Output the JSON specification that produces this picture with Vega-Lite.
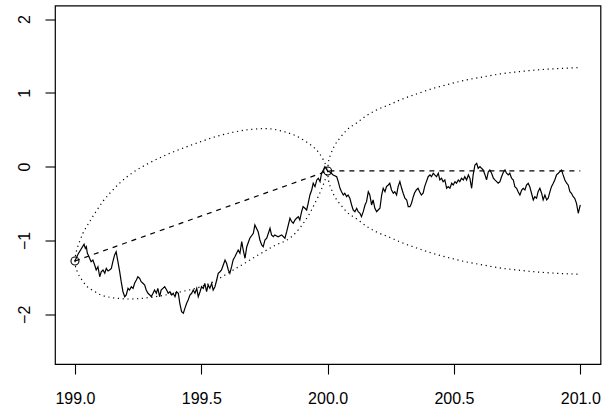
{
"$schema": "https://vega.github.io/schema/vega-lite/v6.json",
"width": 545.5,
"height": 358.5,
"autosize": "none",
"padding": {"left": 55, "top": 5.5, "right": 2.5, "bottom": 46.5},
"background": "white",
"config": {
  "view": {"stroke": "black", "strokeWidth": 1.2},
  "axis": {"grid": false, "domain": false, "tickColor": "black", "tickWidth": 1.1, "tickSize": 10, "labelColor": "black", "labelFont": "Liberation Sans", "labelFontSize": 16, "title": null}
},
"datasets": {
  "series": [
{"x":199.000,"y":-1.278},{"x":199.012,"y":-1.187},{"x":199.036,"y":-1.051},{"x":199.041,"y":-1.106},{"x":199.045,"y":-1.084},{"x":199.049,"y":-1.173},{"x":199.054,"y":-1.206},{"x":199.058,"y":-1.241},{"x":199.064,"y":-1.287},{"x":199.071,"y":-1.264},{"x":199.078,"y":-1.332},{"x":199.084,"y":-1.400},{"x":199.091,"y":-1.355},{"x":199.098,"y":-1.491},{"x":199.104,"y":-1.423},{"x":199.111,"y":-1.400},{"x":199.118,"y":-1.444},{"x":199.124,"y":-1.377},{"x":199.131,"y":-1.413},{"x":199.137,"y":-1.400},{"x":199.144,"y":-1.377},{"x":199.150,"y":-1.287},{"x":199.157,"y":-1.196},{"x":199.163,"y":-1.152},{"x":199.170,"y":-1.287},{"x":199.177,"y":-1.423},{"x":199.183,"y":-1.558},{"x":199.190,"y":-1.694},{"x":199.197,"y":-1.762},{"x":199.203,"y":-1.738},{"x":199.210,"y":-1.648},{"x":199.216,"y":-1.671},{"x":199.223,"y":-1.626},{"x":199.230,"y":-1.648},{"x":199.236,"y":-1.580},{"x":199.243,"y":-1.535},{"x":199.249,"y":-1.491},{"x":199.256,"y":-1.512},{"x":199.262,"y":-1.558},{"x":199.269,"y":-1.580},{"x":199.276,"y":-1.603},{"x":199.282,"y":-1.671},{"x":199.289,"y":-1.715},{"x":199.296,"y":-1.738},{"x":199.302,"y":-1.762},{"x":199.309,"y":-1.715},{"x":199.315,"y":-1.671},{"x":199.322,"y":-1.715},{"x":199.328,"y":-1.648},{"x":199.335,"y":-1.762},{"x":199.341,"y":-1.671},{"x":199.348,"y":-1.648},{"x":199.355,"y":-1.626},
{"x":199.363,"y":-1.671},{"x":199.369,"y":-1.715},{"x":199.376,"y":-1.694},{"x":199.383,"y":-1.738},{"x":199.389,"y":-1.715},{"x":199.396,"y":-1.762},{"x":199.402,"y":-1.694},{"x":199.409,"y":-1.715},{"x":199.415,"y":-1.851},{"x":199.422,"y":-1.965},{"x":199.429,"y":-1.986},{"x":199.435,"y":-1.919},{"x":199.442,"y":-1.851},{"x":199.448,"y":-1.806},{"x":199.455,"y":-1.738},{"x":199.462,"y":-1.715},{"x":199.468,"y":-1.671},{"x":199.475,"y":-1.715},{"x":199.482,"y":-1.648},{"x":199.488,"y":-1.762},{"x":199.495,"y":-1.694},{"x":199.501,"y":-1.626},{"x":199.508,"y":-1.648},{"x":199.514,"y":-1.580},{"x":199.521,"y":-1.694},{"x":199.527,"y":-1.603},{"x":199.534,"y":-1.648},{"x":199.541,"y":-1.580},{"x":199.547,"y":-1.671},{"x":199.554,"y":-1.626},{"x":199.561,"y":-1.535},{"x":199.567,"y":-1.444},{"x":199.574,"y":-1.423},{"x":199.580,"y":-1.400},{"x":199.587,"y":-1.332},{"x":199.594,"y":-1.264},{"x":199.600,"y":-1.309},{"x":199.607,"y":-1.400},{"x":199.613,"y":-1.444},{"x":199.620,"y":-1.355},{"x":199.626,"y":-1.264},
{"x":199.633,"y":-1.220},{"x":199.646,"y":-1.129},{"x":199.653,"y":-1.173},{"x":199.660,"y":-1.016},{"x":199.666,"y":-1.129},{"x":199.673,"y":-1.241},{"x":199.680,"y":-1.084},{"x":199.692,"y":-0.970},{"x":199.706,"y":-0.902},{"x":199.712,"y":-0.790},{"x":199.725,"y":-0.881},{"x":199.732,"y":-0.993},{"x":199.739,"y":-1.061},{"x":199.745,"y":-1.084},{"x":199.752,"y":-0.993},{"x":199.759,"y":-0.970},{"x":199.772,"y":-0.835},{"x":199.778,"y":-0.925},{"x":199.785,"y":-0.949},{"x":199.791,"y":-0.925},{"x":199.804,"y":-0.949},{"x":199.818,"y":-0.925},{"x":199.831,"y":-0.970},{"x":199.838,"y":-0.881},{"x":199.851,"y":-0.699},{"x":199.858,"y":-0.745},{"x":199.864,"y":-0.767},{"x":199.871,"y":-0.722},{"x":199.877,"y":-0.699},{"x":199.884,"y":-0.678},{"x":199.890,"y":-0.722},{"x":199.897,"y":-0.610},{"x":199.903,"y":-0.542},{"x":199.910,"y":-0.564},{"x":199.917,"y":-0.587},{"x":199.923,"y":-0.496},{"x":199.930,"y":-0.383},{"x":199.937,"y":-0.316},{"x":199.943,"y":-0.225},{"x":199.950,"y":-0.271},{"x":199.957,"y":-0.180},{"x":199.963,"y":-0.157},{"x":199.970,"y":-0.203},{"x":199.976,"y":-0.089},{"x":199.983,"y":-0.045},{"x":199.989,"y":0.000},{"x":200.000,"y":-0.058},
{"x":200.009,"y":-0.072},{"x":200.022,"y":-0.112},{"x":200.036,"y":-0.136},{"x":200.042,"y":-0.203},{"x":200.049,"y":-0.293},{"x":200.055,"y":-0.339},{"x":200.062,"y":-0.383},{"x":200.068,"y":-0.360},{"x":200.075,"y":-0.407},{"x":200.081,"y":-0.383},{"x":200.088,"y":-0.428},{"x":200.095,"y":-0.519},{"x":200.101,"y":-0.587},{"x":200.108,"y":-0.610},{"x":200.115,"y":-0.564},{"x":200.121,"y":-0.610},{"x":200.128,"y":-0.631},{"x":200.134,"y":-0.678},{"x":200.141,"y":-0.610},{"x":200.148,"y":-0.519},{"x":200.154,"y":-0.474},{"x":200.161,"y":-0.339},{"x":200.167,"y":-0.383},{"x":200.174,"y":-0.519},{"x":200.180,"y":-0.451},{"x":200.187,"y":-0.564},{"x":200.194,"y":-0.610},{"x":200.200,"y":-0.587},{"x":200.207,"y":-0.564},{"x":200.214,"y":-0.383},{"x":200.220,"y":-0.293},{"x":200.227,"y":-0.339},{"x":200.233,"y":-0.271},{"x":200.240,"y":-0.248},{"x":200.246,"y":-0.225},{"x":200.253,"y":-0.316},{"x":200.260,"y":-0.360},{"x":200.266,"y":-0.339},{"x":200.273,"y":-0.383},{"x":200.279,"y":-0.271},{"x":200.286,"y":-0.203},{"x":200.293,"y":-0.293},{"x":200.299,"y":-0.360},{"x":200.306,"y":-0.428},{"x":200.313,"y":-0.451},{"x":200.319,"y":-0.542},{"x":200.326,"y":-0.542},{"x":200.332,"y":-0.496},{"x":200.339,"y":-0.407},
{"x":200.344,"y":-0.356},{"x":200.351,"y":-0.316},{"x":200.358,"y":-0.293},{"x":200.364,"y":-0.339},{"x":200.371,"y":-0.383},{"x":200.378,"y":-0.360},{"x":200.384,"y":-0.271},{"x":200.391,"y":-0.203},{"x":200.398,"y":-0.136},{"x":200.405,"y":-0.112},{"x":200.411,"y":-0.136},{"x":200.418,"y":-0.089},{"x":200.424,"y":-0.112},{"x":200.431,"y":-0.136},{"x":200.438,"y":-0.089},{"x":200.444,"y":-0.180},{"x":200.451,"y":-0.157},{"x":200.457,"y":-0.203},{"x":200.464,"y":-0.180},{"x":200.471,"y":-0.293},{"x":200.477,"y":-0.271},{"x":200.484,"y":-0.293},{"x":200.491,"y":-0.225},{"x":200.497,"y":-0.248},{"x":200.504,"y":-0.203},{"x":200.510,"y":-0.225},{"x":200.517,"y":-0.180},{"x":200.523,"y":-0.203},{"x":200.530,"y":-0.157},{"x":200.537,"y":-0.180},{"x":200.543,"y":-0.136},{"x":200.550,"y":-0.180},{"x":200.557,"y":-0.112},{"x":200.563,"y":-0.157},{"x":200.570,"y":-0.293},{"x":200.576,"y":-0.112},{"x":200.583,"y":0.023},{"x":200.590,"y":0.046},{"x":200.596,"y":-0.022},{"x":200.603,"y":0.000},{"x":200.609,"y":-0.022},{"x":200.616,"y":-0.045},{"x":200.623,"y":-0.112},{"x":200.629,"y":-0.180},{"x":200.636,"y":-0.068},{"x":200.642,"y":-0.045},{"x":200.649,"y":-0.089},{"x":200.656,"y":-0.157},{"x":200.662,"y":-0.180},{"x":200.669,"y":-0.203},{"x":200.675,"y":-0.225},{"x":200.682,"y":-0.203},
{"x":200.688,"y":-0.140},{"x":200.695,"y":-0.079},{"x":200.702,"y":-0.045},{"x":200.708,"y":-0.089},{"x":200.715,"y":-0.112},{"x":200.721,"y":-0.089},{"x":200.728,"y":-0.157},{"x":200.735,"y":-0.180},{"x":200.741,"y":-0.271},{"x":200.748,"y":-0.293},{"x":200.754,"y":-0.339},{"x":200.761,"y":-0.383},{"x":200.768,"y":-0.316},{"x":200.774,"y":-0.293},{"x":200.781,"y":-0.316},{"x":200.787,"y":-0.248},{"x":200.794,"y":-0.225},{"x":200.800,"y":-0.271},{"x":200.807,"y":-0.360},{"x":200.814,"y":-0.451},{"x":200.820,"y":-0.407},{"x":200.827,"y":-0.428},{"x":200.833,"y":-0.339},{"x":200.840,"y":-0.293},{"x":200.847,"y":-0.360},{"x":200.853,"y":-0.451},{"x":200.860,"y":-0.383},{"x":200.867,"y":-0.451},{"x":200.873,"y":-0.428},{"x":200.880,"y":-0.339},{"x":200.886,"y":-0.271},{"x":200.893,"y":-0.225},{"x":200.899,"y":-0.180},{"x":200.906,"y":-0.112},{"x":200.913,"y":-0.089},{"x":200.919,"y":-0.068},{"x":200.926,"y":-0.045},{"x":200.932,"y":-0.112},{"x":200.939,"y":-0.180},{"x":200.946,"y":-0.225},{"x":200.952,"y":-0.248},{"x":200.959,"y":-0.339},{"x":200.965,"y":-0.360},{"x":200.972,"y":-0.407},{"x":200.978,"y":-0.428},{"x":200.985,"y":-0.496},{"x":200.992,"y":-0.631},{"x":201.000,"y":-0.519}
  ],
  "dashed": [
{"x":199.000,"y":-1.278},{"x":200.000,"y":-0.058},{"x":201.000,"y":-0.058}
  ],
  "band": [
{"curve":"bu","x":199.000,"y":-1.278},{"curve":"bu","x":199.002,"y":-1.210},{"curve":"bu","x":199.006,"y":-1.142},{"curve":"bu","x":199.012,"y":-1.075},{"curve":"bu","x":199.020,"y":-1.000},{"curve":"bu","x":199.032,"y":-0.898},{"curve":"bu","x":199.046,"y":-0.813},{"curve":"bu","x":199.067,"y":-0.695},{"curve":"bu","x":199.086,"y":-0.593},{"curve":"bu","x":199.112,"y":-0.465},{"curve":"bu","x":199.138,"y":-0.360},{"curve":"bu","x":199.178,"y":-0.220},{"curve":"bu","x":199.231,"y":-0.075},{"curve":"bu","x":199.297,"y":0.055},{"curve":"bu","x":199.363,"y":0.163},{"curve":"bu","x":199.435,"y":0.260},{"curve":"bu","x":199.495,"y":0.335},{"curve":"bu","x":199.554,"y":0.403},{"curve":"bu","x":199.626,"y":0.466},{"curve":"bu","x":199.692,"y":0.503},{"curve":"bu","x":199.758,"y":0.515},{"curve":"bu","x":199.824,"y":0.477},{"curve":"bu","x":199.871,"y":0.423},{"curve":"bu","x":199.910,"y":0.348},{"curve":"bu","x":199.943,"y":0.267},{"curve":"bu","x":199.966,"y":0.186},{"curve":"bu","x":199.983,"y":0.091},{"curve":"bu","x":199.994,"y":0.009},{"curve":"bu","x":200.000,"y":-0.058},
{"curve":"bl","x":199.000,"y":-1.278},{"curve":"bl","x":199.002,"y":-1.346},{"curve":"bl","x":199.007,"y":-1.400},{"curve":"bl","x":199.012,"y":-1.447},{"curve":"bl","x":199.020,"y":-1.495},{"curve":"bl","x":199.032,"y":-1.556},{"curve":"bl","x":199.046,"y":-1.617},{"curve":"bl","x":199.071,"y":-1.677},{"curve":"bl","x":199.099,"y":-1.732},{"curve":"bl","x":199.138,"y":-1.770},{"curve":"bl","x":199.178,"y":-1.786},{"curve":"bl","x":199.218,"y":-1.793},{"curve":"bl","x":199.257,"y":-1.786},{"curve":"bl","x":199.336,"y":-1.752},{"curve":"bl","x":199.415,"y":-1.698},{"curve":"bl","x":199.495,"y":-1.630},{"curve":"bl","x":199.554,"y":-1.549},{"curve":"bl","x":199.600,"y":-1.454},{"curve":"bl","x":199.673,"y":-1.305},{"curve":"bl","x":199.732,"y":-1.183},{"curve":"bl","x":199.791,"y":-1.068},{"curve":"bl","x":199.851,"y":-0.966},{"curve":"bl","x":199.890,"y":-0.831},{"curve":"bl","x":199.910,"y":-0.736},{"curve":"bl","x":199.930,"y":-0.627},{"curve":"bl","x":199.949,"y":-0.499},{"curve":"bl","x":199.964,"y":-0.397},{"curve":"bl","x":199.976,"y":-0.302},{"curve":"bl","x":199.987,"y":-0.207},{"curve":"bl","x":199.995,"y":-0.126},{"curve":"bl","x":200.000,"y":-0.058},
{"curve":"pu","x":200.000,"y":-0.058},{"curve":"pu","x":200.003,"y":0.057},{"curve":"pu","x":200.013,"y":0.172},{"curve":"pu","x":200.029,"y":0.294},{"curve":"pu","x":200.049,"y":0.389},{"curve":"pu","x":200.076,"y":0.498},{"curve":"pu","x":200.115,"y":0.592},{"curve":"pu","x":200.152,"y":0.687},{"curve":"pu","x":200.194,"y":0.769},{"curve":"pu","x":200.247,"y":0.843},{"curve":"pu","x":200.287,"y":0.904},{"curve":"pu","x":200.352,"y":0.985},{"curve":"pu","x":200.418,"y":1.060},{"curve":"pu","x":200.484,"y":1.121},{"curve":"pu","x":200.550,"y":1.175},{"curve":"pu","x":200.616,"y":1.216},{"curve":"pu","x":200.682,"y":1.256},{"curve":"pu","x":200.748,"y":1.283},{"curve":"pu","x":200.814,"y":1.306},{"curve":"pu","x":200.906,"y":1.328},{"curve":"pu","x":201.000,"y":1.342},
{"curve":"pl","x":200.000,"y":-0.058},{"curve":"pl","x":200.003,"y":-0.173},{"curve":"pl","x":200.013,"y":-0.288},{"curve":"pl","x":200.029,"y":-0.410},{"curve":"pl","x":200.049,"y":-0.505},{"curve":"pl","x":200.076,"y":-0.614},{"curve":"pl","x":200.115,"y":-0.708},{"curve":"pl","x":200.152,"y":-0.803},{"curve":"pl","x":200.194,"y":-0.885},{"curve":"pl","x":200.247,"y":-0.959},{"curve":"pl","x":200.287,"y":-1.020},{"curve":"pl","x":200.352,"y":-1.101},{"curve":"pl","x":200.418,"y":-1.176},{"curve":"pl","x":200.484,"y":-1.237},{"curve":"pl","x":200.550,"y":-1.291},{"curve":"pl","x":200.616,"y":-1.332},{"curve":"pl","x":200.682,"y":-1.372},{"curve":"pl","x":200.748,"y":-1.399},{"curve":"pl","x":200.814,"y":-1.422},{"curve":"pl","x":200.906,"y":-1.444},{"curve":"pl","x":201.000,"y":-1.458}
  ],
  "pts": [
{"x":199.000,"y":-1.278},{"x":200.000,"y":-0.058}
  ]
},
"encoding": {
  "x": {"field": "x", "type": "quantitative", "scale": {"domain": [198.921, 201.080], "nice": false, "zero": false},
        "axis": {"values": [199, 199.5, 200, 200.5, 201], "format": ".1f", "labelPadding": 16, "labelFlush": false}},
  "y": {"field": "y", "type": "quantitative", "scale": {"domain": [-2.673, 2.183], "nice": false, "zero": false},
        "axis": {"values": [-2, -1, 0, 1, 2], "format": "d", "labelAngle": -90, "labelAlign": "center", "labelBaseline": "bottom", "labelPadding": 13, "labelFlush": false}}
},
"layer": [
  {"data": {"name": "band"}, "mark": {"type": "line", "color": "black", "strokeWidth": 1.2, "strokeDash": [1.2, 3.6], "interpolate": "monotone", "clip": true},
   "encoding": {"detail": {"field": "curve"}}},
  {"data": {"name": "dashed"}, "mark": {"type": "line", "color": "black", "strokeWidth": 1.2, "strokeDash": [5, 5], "clip": true}},
  {"data": {"name": "series"}, "mark": {"type": "line", "color": "black", "strokeWidth": 1.2, "clip": true}},
  {"data": {"name": "pts"}, "mark": {"type": "point", "shape": "circle", "filled": false, "color": "black", "size": 64, "strokeWidth": 1.1, "opacity": 1}}
]
}
